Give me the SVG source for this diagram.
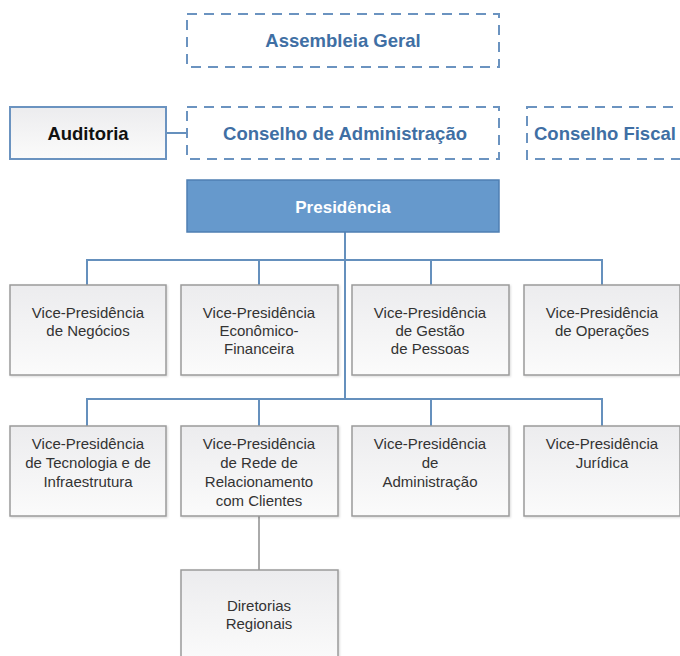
<svg xmlns="http://www.w3.org/2000/svg" width="680" height="656" viewBox="0 0 680 656">
<defs>
<linearGradient id="g" x1="0" y1="0" x2="0" y2="1">
<stop offset="0" stop-color="#ececee"/>
<stop offset="1" stop-color="#fbfbfb"/>
</linearGradient>
<filter id="sh" x="-10%" y="-10%" width="130%" height="130%">
<feDropShadow dx="1" dy="1" stdDeviation="1" flood-color="#000" flood-opacity="0.15"/>
</filter>
</defs>
<style>
.dash{fill:#fff;stroke:#6b93c0;stroke-width:2;stroke-dasharray:10 7}
.box{fill:url(#g);stroke:#9a9a9a;stroke-width:1.5;filter:url(#sh)}
.aud{fill:url(#g);stroke:#6b93c0;stroke-width:2}
.pres{fill:#6699cc;stroke:#4f7fb3;stroke-width:1.5}
.t{font-family:"Liberation Sans",Arial,sans-serif;font-size:15px;fill:#333;text-anchor:middle}
.bt{font-family:"Liberation Sans",Arial,sans-serif;font-size:18.5px;font-weight:bold;fill:#3f6fa4;text-anchor:middle}
.conn{fill:none;stroke:#6590bd;stroke-width:2}
.connG{fill:none;stroke:#aaa;stroke-width:2}
</style>
<rect width="680" height="656" fill="#fff"/>
<g id="connectors">
<path class="conn" d="M166,133H187"/>
<path class="conn" d="M345,232V398"/>
<path class="conn" d="M87,285V260H602V285M259,260V285M431,260V285"/>
<path class="conn" d="M87,426V399H602V426M259,399V426M431,399V426"/>
<path class="connG" d="M259,516V570"/>
</g>
<g id="assembleia">
<rect class="dash" x="187" y="14" width="312" height="53"/>
<text class="bt" x="343" y="47">Assembleia Geral</text>
</g>
<g id="auditoria">
<rect class="aud" x="10" y="107" width="156" height="52"/>
<text class="bt" x="88" y="140" style="fill:#111">Auditoria</text>
</g>
<g id="conselho-adm">
<rect class="dash" x="187" y="107" width="312" height="52"/>
<text class="bt" x="345" y="140">Conselho de Administração</text>
</g>
<g id="conselho-fiscal">
<rect class="dash" x="527" y="107" width="170" height="52"/>
<text class="bt" x="534" y="140" style="text-anchor:start">Conselho Fiscal</text>
</g>
<g id="presidencia">
<rect class="pres" x="187" y="180" width="312" height="52"/>
<text class="bt" x="343" y="213" style="fill:#fff;font-size:17px">Presidência</text>
</g>
<g id="vp-negocios">
<rect class="box" x="10" y="285" width="156" height="90"/>
<text class="t" x="88" y="318">Vice-Presidência</text>
<text class="t" x="88" y="336">de Negócios</text>
</g>
<g id="vp-economico">
<rect class="box" x="181" y="285" width="157" height="90"/>
<text class="t" x="259" y="318">Vice-Presidência</text>
<text class="t" x="259" y="336">Econômico-</text>
<text class="t" x="259" y="354">Financeira</text>
</g>
<g id="vp-pessoas">
<rect class="box" x="352" y="285" width="157" height="90"/>
<text class="t" x="430" y="318">Vice-Presidência</text>
<text class="t" x="430" y="336">de Gestão</text>
<text class="t" x="430" y="354">de Pessoas</text>
</g>
<g id="vp-operacoes">
<rect class="box" x="524" y="285" width="156" height="90"/>
<text class="t" x="602" y="318">Vice-Presidência</text>
<text class="t" x="602" y="336">de Operações</text>
</g>
<g id="vp-tecnologia">
<rect class="box" x="10" y="426" width="156" height="90"/>
<text class="t" x="88" y="449">Vice-Presidência</text>
<text class="t" x="88" y="468">de Tecnologia e de</text>
<text class="t" x="88" y="487">Infraestrutura</text>
</g>
<g id="vp-rede">
<rect class="box" x="181" y="426" width="157" height="90"/>
<text class="t" x="259" y="449">Vice-Presidência</text>
<text class="t" x="259" y="468">de Rede de</text>
<text class="t" x="259" y="487">Relacionamento</text>
<text class="t" x="259" y="506">com Clientes</text>
</g>
<g id="vp-administracao">
<rect class="box" x="352" y="426" width="157" height="90"/>
<text class="t" x="430" y="449">Vice-Presidência</text>
<text class="t" x="430" y="468">de</text>
<text class="t" x="430" y="487">Administração</text>
</g>
<g id="vp-juridica">
<rect class="box" x="524" y="426" width="156" height="90"/>
<text class="t" x="602" y="449">Vice-Presidência</text>
<text class="t" x="602" y="468">Jurídica</text>
</g>
<g id="diretorias">
<rect class="box" x="181" y="570" width="157" height="95"/>
<text class="t" x="259" y="611">Diretorias</text>
<text class="t" x="259" y="629">Regionais</text>
</g>
</svg>
